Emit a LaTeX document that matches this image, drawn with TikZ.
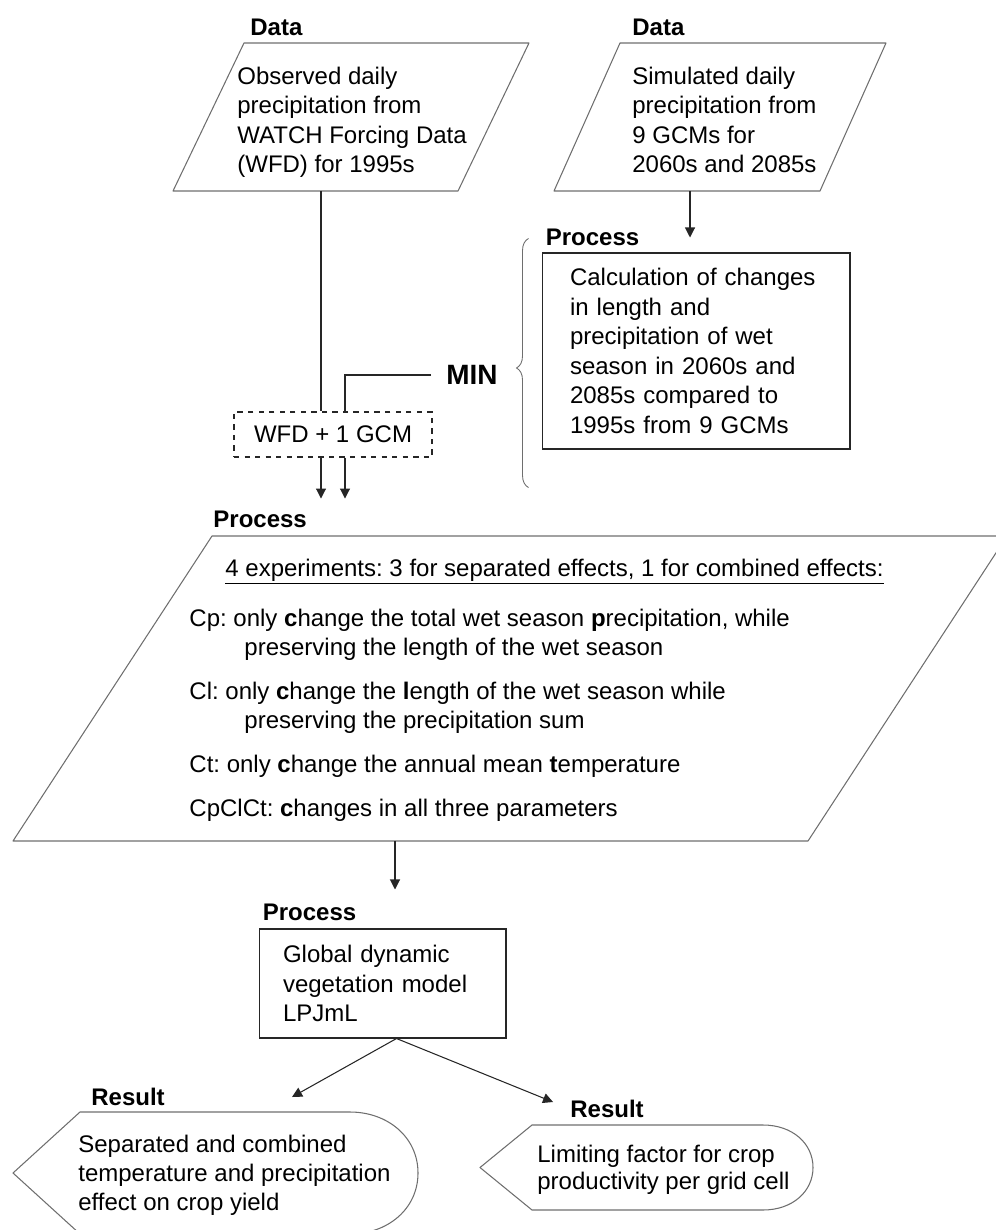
\documentclass[tikz,border=0pt]{standalone}
\usepackage{fontspec}
\setmainfont{Liberation Sans}
\usetikzlibrary{arrows.meta,positioning,calc,decorations.pathreplacing}
\definecolor{edge}{HTML}{6E6E6E}
\definecolor{ink}{HTML}{262626}

\begin{document}
\begin{tikzpicture}[x=0.02cm,y=-0.02cm,
  txt/.style={font=\fontsize{13.66pt}{16.8pt}\selectfont\frenchspacing,align=left,inner sep=0pt},
  tag/.style={font=\bfseries\fontsize{13.66pt}{16pt}\selectfont,inner sep=0pt},
  frame/.style={rectangle,inner sep=0pt,outer sep=0pt},
  box/.style={txt,rectangle,draw=ink,line width=0.6pt,inner ysep=0pt},
  conn/.style={draw=ink,line width=0.6pt},
  arr/.style={conn,-{Triangle[length=0.2cm,width=0.2cm]}},
  brc/.style={draw=edge,line width=0.5pt,decorate,decoration={brace,amplitude=0.24cm,aspect=0.48}},
  shp/.style={draw=edge,line width=0.6pt,line join=round}]
\useasboundingbox (0,0) rectangle (996,1230);
% input data
\node[frame,minimum width=7.12cm,minimum height=2.96cm] (data1) at (351,117) {};
\draw[shp,shift={(data1.center)}] (-178,74) -- (-107,-74) -- (178,-74) -- (107,74) -- cycle;
\node[txt,anchor=west] (data1txt) at (237,122.5) {Observed daily\\precipitation from\\WATCH Forcing Data\\(WFD) for 1995s};
\node[tag,above right=0.13cm and 1.54cm of data1.north west] (data1tag) {Data};
\node[frame,minimum width=6.64cm,minimum height=2.96cm] (data2) at (720,117) {};
\draw[shp,shift={(data2.center)}] (-166,74) -- (-100,-74) -- (166,-74) -- (100,74) -- cycle;
\node[txt,anchor=west] (data2txt) at (632,120) {Simulated daily\\precipitation from\\9 GCMs for\\2060s and 2085s};
\node[tag,above right=0.13cm and 1.56cm of data2.north west] (data2tag) {Data};
% changes per GCM
\node[box,minimum height=3.92cm,text width=5.04cm,inner xsep=0.56cm] (calc) at (696,351) {Calculation of changes\\in length and\\precipitation of wet\\season in 2060s and\\2085s compared to\\1995s from 9 GCMs};
\node[tag,above right=0.13cm and 0.08cm of calc.north west] (calctag) {Process};
\draw[brc] ($(calc.south west)+(-13,38)$) -- ($(calc.north west)+(-13,-14)$);
\node[font=\bfseries\fontsize{15.9pt}{18pt}\selectfont,inner sep=0pt] (minlbl) at (472,375) {MIN};
\node[box,dashed,align=center,minimum width=3.96cm,minimum height=0.9cm] (wfd) at (333,434.5) {WFD + 1 GCM};
% experiments
\node[frame,minimum width=19.88cm,minimum height=6.1cm] (exper) at (510,688.5) {};
\draw[shp,shift={(exper.center)}] (-497,152.5) -- (-298,-152.5) -- (497,-152.5) -- (298,152.5) -- cycle;
\node[txt,font=\fontsize{13.66pt}{16.5pt}\selectfont\frenchspacing,anchor=north west] (expertxt) at ($(exper.north west)+(176,22.5)$) {\hspace*{0.72cm}\underline{4 experiments: 3 for separated effects, 1 for combined effects:}\\[0.42cm]
Cp: only \textbf{c}hange the total wet season \textbf{p}recipitation, while\\
\hspace*{1.1cm}preserving the length of the wet season\\[0.3cm]
Cl: only \textbf{c}hange the \textbf{l}ength of the wet season while\\
\hspace*{1.1cm}preserving the precipitation sum\\[0.3cm]
Ct: only \textbf{c}hange the annual mean \textbf{t}emperature\\[0.3cm]
CpClCt: \textbf{c}hanges in all three parameters};
\node[tag,above right=0.15cm and 4cm of exper.north west] (expertag) {Process};
% model
\node[box,minimum height=2.18cm,text width=3.98cm,inner xsep=0.48cm] (lpj) at (382.5,983.5) {Global dynamic\\vegetation model\\LPJmL};
\node[tag,above right=0.15cm and 0.08cm of lpj.north west] (lpjtag) {Process};
% results
\node[frame,minimum width=8.1cm,minimum height=2.44cm] (res1) at (215.5,1173) {};
\draw[shp,shift={(res1.center)}] (-202.5,0) -- (-135.5,-61) -- (134.5,-61) .. controls (172,-61) and (202.5,-36) .. (202.5,0) .. controls (202.5,36) and (172,61) .. (134.5,61) -- (-135.5,61) -- cycle;
\node[txt,font=\fontsize{13.66pt}{16.5pt}\selectfont\frenchspacing,anchor=west] (res1txt) at ($(res1.west)+(65,2.75)$) {Separated and combined\\temperature and precipitation\\effect on crop yield};
\node[tag,above right=0.11cm and 1.56cm of res1.north west] (res1tag) {Result};
\node[frame,minimum width=6.66cm,minimum height=1.7cm] (res2) at (646.5,1167.5) {};
\draw[shp,shift={(res2.center)}] (-166.5,0) -- (-114.5,-42.5) -- (116.5,-42.5) .. controls (146,-42.5) and (166.5,-24) .. (166.5,0) .. controls (166.5,24) and (146,42.5) .. (116.5,42.5) -- (-114.5,42.5) -- cycle;
\node[txt,font=\fontsize{13.66pt}{15.4pt}\selectfont\frenchspacing,anchor=west] (res2txt) at ($(res2.west)+(57,2.75)$) {Limiting factor for crop\\productivity per grid cell};
\node[tag,above right=0.13cm and 1.8cm of res2.north west] (res2tag) {Result};
% connectors
\coordinate (wfdL) at ($(wfd.north)+(-12,0)$);
\coordinate (wfdR) at ($(wfd.north)+(12,0)$);
\coordinate (inA) at ($(wfd.south)+(-12,41)$);
\coordinate (inB) at ($(wfd.south)+(12,41)$);
\draw[conn] (wfdL |- data1.south) -- (wfdL);
\draw[conn] ($(minlbl.west)+(-15,0)$) -| (wfdR);
\draw[arr] (inA |- wfd.south) -- (inA);
\draw[arr] (inB |- wfd.south) -- (inB);
\coordinate (calcin) at ($(calc.north)+(-6,-15)$);
\draw[arr] (calcin |- data2.south) -- (calcin);
\coordinate (lpjx) at ($(lpj.north)+(12.5,0)$);
\coordinate (lpjin) at ($(lpj.north)+(12.5,-39)$);
\draw[arr] (lpjx |- exper.south) -- (lpjin);
\coordinate (lpjout) at ($(lpj.south)+(14,0)$);
\coordinate (res1in) at ($(res1.north west)+(279,-15)$);
\coordinate (res2in) at ($(res2.north west)+(73,-23)$);
\draw[arr] (lpjout) -- (res1in);
\draw[arr] (lpjout) -- (res2in);
\end{tikzpicture}
\end{document}
